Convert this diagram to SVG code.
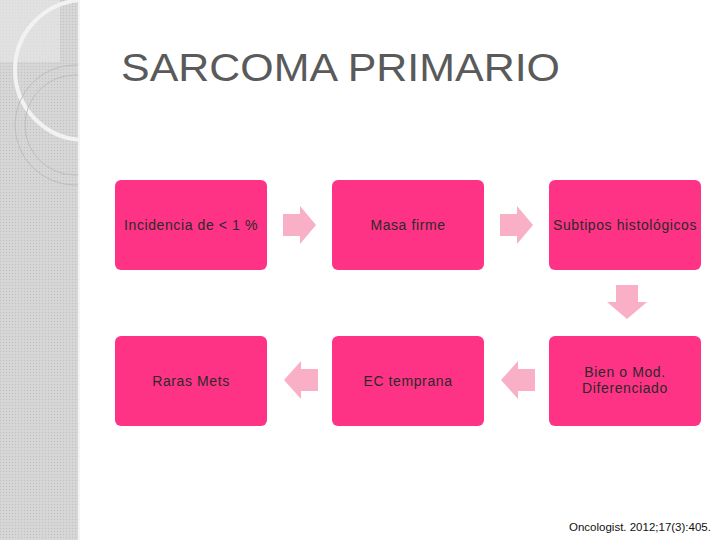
<svg xmlns="http://www.w3.org/2000/svg" width="720" height="540" viewBox="0 0 720 540">
<defs>
<pattern id="dots" width="3" height="3" patternUnits="userSpaceOnUse"><rect width="3" height="3" fill="#d4d4d4"/><rect width="1" height="1" fill="#c2c2c2"/><rect x="1.5" y="1.5" width="1" height="1" fill="#e2e2e2"/></pattern>
<clipPath id="lp"><rect width="79" height="540"/></clipPath>
</defs>
<style>
.box{fill:#FF3385}
.arr{fill:#F9AFC6}
.t{font-family:"Liberation Sans",Arial,sans-serif;font-size:14px;letter-spacing:0.6px;fill:#2a2a2a;text-anchor:middle}
</style>
<rect width="720" height="540" fill="#fff"/>
<g id="panel">
<rect width="79" height="540" fill="url(#dots)"/>
<g clip-path="url(#lp)">
<rect width="60" height="62" fill="#e6e6e6" opacity="0.7"/>
<circle cx="85" cy="70" r="70" fill="none" stroke="#f2f2f2" stroke-width="4"/>
<circle cx="75" cy="125" r="60" fill="none" stroke="#bdbdbd" stroke-width="1"/>
<circle cx="75" cy="125" r="50" fill="none" stroke="#bdbdbd" stroke-width="1"/>
</g>
<rect x="78" width="2" height="540" fill="#f4f4f4"/>
</g>
<text x="121" y="81" font-family="Liberation Sans,Arial,sans-serif" font-size="39" fill="#5a5a5a" textLength="439" lengthAdjust="spacingAndGlyphs">SARCOMA PRIMARIO</text>
<g id="n1"><rect class="box" x="115" y="180" width="152" height="90" rx="6"/><text class="t" x="191" y="230">Incidencia de &lt; 1 %</text></g>
<g id="n2"><rect class="box" x="332" y="180" width="152" height="90" rx="6"/><text class="t" x="408" y="230">Masa firme</text></g>
<g id="n3"><rect class="box" x="549" y="180" width="152" height="90" rx="6"/><text class="t" x="625" y="230">Subtipos histológicos</text></g>
<g id="n4"><rect class="box" x="549" y="336" width="152" height="90" rx="6"/><text class="t" x="625" y="377">Bien o Mod.</text><text class="t" x="625" y="393">Diferenciado</text></g>
<g id="n5"><rect class="box" x="332" y="336" width="152" height="90" rx="6"/><text class="t" x="408" y="386">EC temprana</text></g>
<g id="n6"><rect class="box" x="115" y="336" width="152" height="90" rx="6"/><text class="t" x="191" y="386">Raras Mets</text></g>
<g id="connectors">
<polygon class="arr" points="283,214 300,214 300,206 316,225 300,244 300,236 283,236"/>
<polygon class="arr" points="500,214 517,214 517,206 533,225 517,244 517,236 500,236"/>
<polygon class="arr" points="616,285 638,285 638,302 647,302 627,319 607,302 616,302"/>
<polygon class="arr" points="535,369 518,369 518,361 501,380 518,399 518,391 535,391"/>
<polygon class="arr" points="318,369 301,369 301,361 284,380 301,399 301,391 318,391"/>
</g>
<text x="569" y="531" font-family="Liberation Sans,Arial,sans-serif" font-size="11.5" fill="#111">Oncologist. 2012;17(3):405.</text>
</svg>
